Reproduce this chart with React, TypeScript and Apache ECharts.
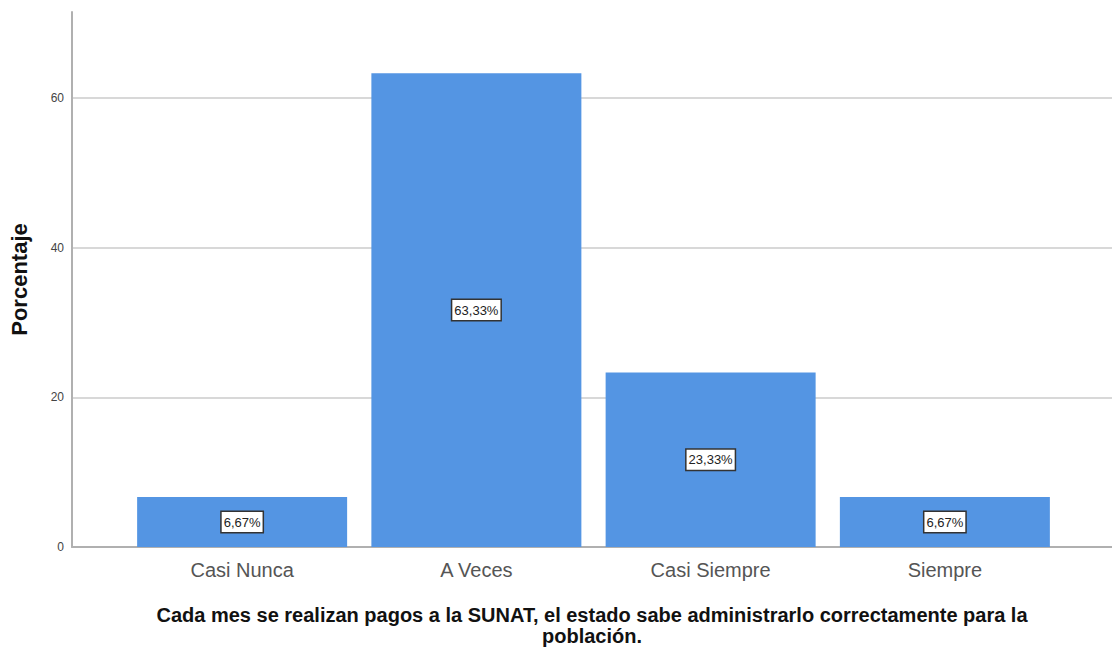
import React, { useEffect, useRef } from "react";
import * as echarts from "echarts";

const categories = ["Casi Nunca", "A Veces", "Casi Siempre", "Siempre"];
const values = [6.67, 63.33, 23.33, 6.67];
const labels = ["6,67%", "63,33%", "23,33%", "6,67%"];
const yMax = 71.5;
const yInterval = 20;
const yTitle = "Porcentaje";
const xTitle =
  "Cada mes se realizan pagos a la SUNAT, el estado sabe administrarlo correctamente para la\npoblación.";

export default function App() {
  const ref = useRef<HTMLDivElement>(null);
  useEffect(() => {
    if (!ref.current) return;
    const chart = echarts.init(ref.current, null, { renderer: "svg" });
    const font = "'Liberation Sans', Arial, sans-serif";
    chart.setOption({
      animation: false,
      textStyle: { fontFamily: font },
      grid: [
        { left: 72, right: 0, top: 12, bottom: 103, containLabel: false, outerBoundsMode: "none" },
        { left: 125, right: 50, top: 12, bottom: 103, containLabel: false, outerBoundsMode: "none" },
      ],
      xAxis: [
        {
          gridIndex: 0,
          type: "value",
          min: 0,
          max: 1,
          axisLine: { show: true, lineStyle: { color: "#b0b0b0", width: 2 } },
          axisTick: { show: false },
          axisLabel: { show: false },
          splitLine: { show: false },
          name: xTitle,
          nameLocation: "middle",
          nameGap: 57,
          nameTextStyle: {
            fontFamily: font,
            fontSize: 20,
            fontWeight: "bold",
            color: "#111",
            lineHeight: 21,
            align: "center",
          },
        },
        {
          gridIndex: 1,
          type: "category",
          data: categories,
          axisLine: { show: false },
          axisTick: { show: false },
          axisLabel: { fontSize: 20, color: "#555", margin: 13, fontFamily: font },
        },
      ],
      yAxis: [
        {
          gridIndex: 0,
          type: "value",
          min: 0,
          max: yMax,
          interval: yInterval,
          axisLine: { show: true, lineStyle: { color: "#b0b0b0", width: 2 } },
          axisTick: { show: false },
          axisLabel: {
            fontSize: 12,
            color: "#444",
            margin: 8,
            showMaxLabel: false,
            formatter: (v: number) => (v % yInterval === 0 ? String(v) : ""),
          },
          splitLine: {
            show: true,
            showMinLine: false,
            showMaxLine: false,
            lineStyle: { color: "#d8d8d8", width: 2 },
          },
          name: yTitle,
          nameLocation: "middle",
          nameGap: 42,
          nameRotate: 90,
          nameTextStyle: { fontFamily: font, fontSize: 22, fontWeight: "bold", color: "#111" },
        },
        {
          gridIndex: 1,
          type: "value",
          min: 0,
          max: yMax,
          show: false,
          splitLine: { show: false },
        },
      ],
      series: [
        {
          type: "bar",
          xAxisIndex: 1,
          yAxisIndex: 1,
          data: values,
          barWidth: 210,
          itemStyle: { color: "#5495e3" },
          label: {
            show: true,
            position: "inside",
            formatter: (p: any) => labels[p.dataIndex],
            fontSize: 13,
            color: "#222",
            backgroundColor: "#ffffff",
            borderColor: "#333",
            borderWidth: 1.5,
            padding: [4, 2, 3, 2],
            fontFamily: font,
          },
        },
      ],
    });
    return () => chart.dispose();
  }, []);
  return (
    <div
      ref={ref}
      style={{ position: "fixed", left: 0, top: 0, width: 1112, height: 650, background: "#fff" }}
    />
  );
}
